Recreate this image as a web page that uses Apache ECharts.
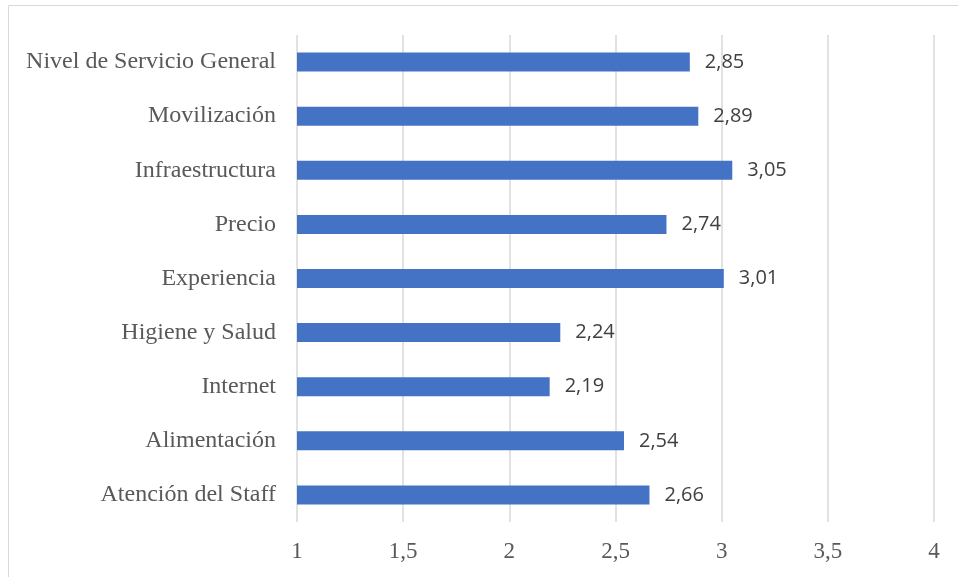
<!DOCTYPE html>
<html>
<head>
<meta charset="utf-8">
<script src="https://cdn.jsdelivr.net/npm/echarts@6/dist/echarts.min.js"></script>
<style>
  html, body { margin: 0; padding: 0; background: #fff; }
  #chart { width: 958px; height: 577px; }
</style>
</head>
<body>
<div id="chart"></div>
<script>
// categories listed bottom to top, as the y axis draws them
const categories = [
  'Atención del Staff',
  'Alimentación',
  'Internet',
  'Higiene y Salud',
  'Experiencia',
  'Precio',
  'Infraestructura',
  'Movilización',
  'Nivel de Servicio General'
];
const scores = [2.66, 2.54, 2.19, 2.24, 3.01, 2.74, 3.05, 2.89, 2.85];

const comma = v => String(v).replace('.', ',');

const chart = echarts.init(document.getElementById('chart'));

chart.setOption({
  animation: false,
  graphic: [{
    type: 'rect',
    shape: { x: 8.5, y: 5.5, width: 960, height: 600 },
    style: { fill: 'none', stroke: '#d9d9d9', lineWidth: 1 },
    silent: true
  }],
  grid: { left: 297, right: 24, top: 35, bottom: 55 },
  xAxis: {
    type: 'value',
    min: 1,
    max: 4,
    interval: 0.5,
    axisLine: { show: false },
    axisTick: { show: false },
    splitLine: { lineStyle: { color: '#d9d9d9', width: 1.5 } },
    axisLabel: {
      margin: 18,
      fontFamily: 'Liberation Serif',
      fontSize: 23,
      color: '#595959',
      formatter: v => comma(v)
    }
  },
  yAxis: {
    type: 'category',
    data: categories,
    axisLine: { show: false },
    axisTick: { show: false },
    axisLabel: {
      margin: 21,
      fontFamily: 'Liberation Serif',
      fontSize: 24,
      color: '#595959',
      padding: [2, 0, 0, 0]
    }
  },
  series: [{
    type: 'bar',
    data: scores,
    barWidth: 19,
    itemStyle: { color: '#4472C4' },
    label: {
      show: true,
      position: 'right',
      distance: 15,
      fontFamily: 'Open Sans',
      fontSize: 20,
      color: '#404040',
      formatter: p => comma(p.value.toFixed(2))
    }
  }]
});
</script>
</body>
</html>
